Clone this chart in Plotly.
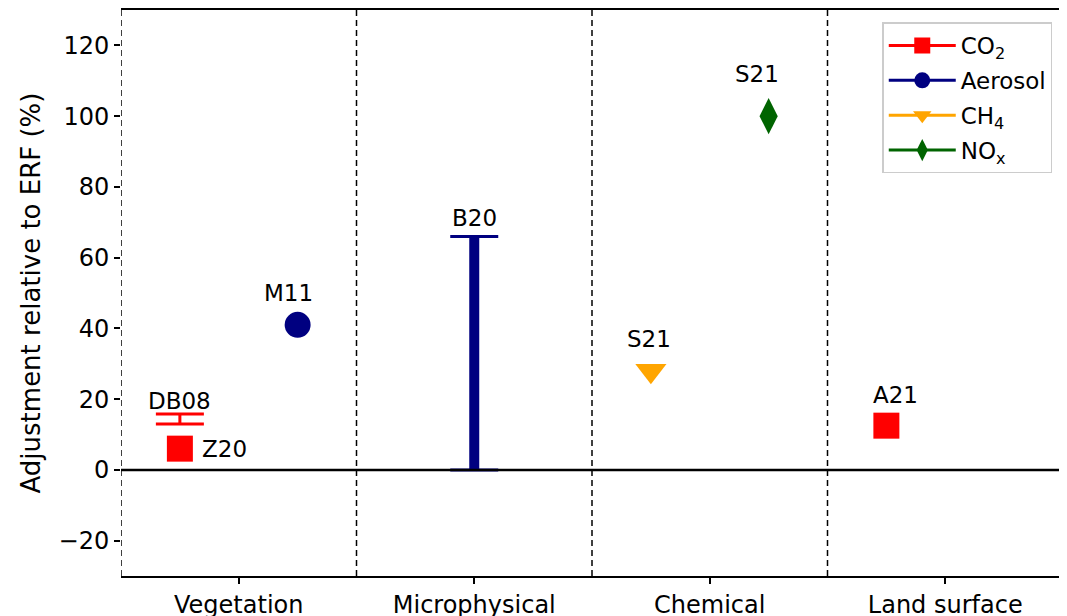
import plotly.graph_objects as go

# categories along x
categories = ["Vegetation", "Microphysical", "Chemical", "Land surface"]

# species colours / legend names
species = ["CO<sub>2</sub>", "Aerosol", "CH<sub>4</sub>", "NO<sub>x</sub>"]
species_colors = ["#ff0000", "#000080", "#ffa500", "#006400"]
species_symbols = ["square", "circle", "triangle-down", "diamond-tall"]

# single-value studies
point_labels = ["Z20", "M11", "S21", "S21", "A21"]
point_species = [0, 1, 2, 3, 0]
point_x = [-0.25, 0.25, 1.75, 2.25, 2.75]
point_y = [6, 41, 28, 100, 12.5]

# range studies
range_labels = ["DB08", "B20"]
range_species = [0, 1]
range_x = [-0.25, 1.0]
range_low = [13.0, 0.0]
range_high = [15.8, 66.0]

# label positions (text centres)
label_text = ["DB08", "Z20", "M11", "B20", "S21", "S21", "A21"]
label_x = [-0.25, -0.06, 0.21, 1.0, 1.74, 2.2, 2.79]
label_y = [19.5, 6, 50, 71.2, 37, 112, 21.2]

FONT = "DejaVu Sans, Verdana, sans-serif"

fig = go.Figure()

# thick stem for B20
fig.add_trace(go.Scatter(
    x=[range_x[1], range_x[1]], y=[range_low[1], range_high[1]],
    mode="lines", line=dict(color=species_colors[range_species[1]], width=10),
    showlegend=False, hoverinfo="skip",
))

# range bars with caps
for i in range(len(range_labels)):
    mid = (range_low[i] + range_high[i]) / 2
    half = (range_high[i] - range_low[i]) / 2
    fig.add_trace(go.Scatter(
        x=[range_x[i]], y=[mid], mode="markers",
        marker=dict(size=0.1, color=species_colors[range_species[i]]),
        error_y=dict(type="data", array=[half], symmetric=True,
                     color=species_colors[range_species[i]],
                     thickness=3, width=24),
        showlegend=False, hoverinfo="skip",
    ))

# point markers
for i in range(len(point_labels)):
    s = point_species[i]
    fig.add_trace(go.Scatter(
        x=[point_x[i]], y=[point_y[i]], mode="markers",
        marker=dict(symbol=species_symbols[s], size=26 if s != 2 else 27,
                    color=species_colors[s], line=dict(width=0)),
        showlegend=False,
    ))

# legend entries
for s in range(len(species)):
    fig.add_trace(go.Scatter(
        x=[None], y=[None], mode="lines+markers", name=species[s],
        line=dict(color=species_colors[s], width=3),
        marker=dict(symbol=species_symbols[s], size=16, color=species_colors[s]),
        legendgroup=str(s),
    ))

for t, x, y in zip(label_text, label_x, label_y):
    fig.add_annotation(x=x, y=y, text=t, showarrow=False,
                       font=dict(size=23, color="#000000", family=FONT))

# zero line
fig.add_shape(type="line", xref="paper", x0=0, x1=1, y0=0, y1=0,
              line=dict(color="black", width=2.5))
# category separators
for xv in [-0.5, 0.5, 1.5, 2.5]:
    fig.add_shape(type="line", x0=xv, x1=xv, yref="paper", y0=0, y1=1,
                  line=dict(color="black", width=1.5, dash="6px,4px"))
# right spine
fig.add_shape(type="line", xref="paper", x0=1, x1=1, yref="paper", y0=0, y1=1,
              line=dict(color="black", width=1.5))

fig.update_layout(
    width=1059, height=608,
    margin=dict(l=113, r=4, t=2, b=40, autoexpand=False),
    plot_bgcolor="white", paper_bgcolor="white",
    font=dict(family=FONT, size=24, color="#000000"),
    showlegend=True,
    legend=dict(
        x=0.9886, y=0.978, xanchor="right", yanchor="top",
        bgcolor="white", bordercolor="#cccccc", borderwidth=1.5,
        font=dict(size=23, family=FONT), tracegroupgap=2, itemwidth=67,
    ),
    xaxis=dict(
        range=[-0.5, 3.5], tickvals=[0, 1, 2, 3], ticktext=categories,
        showgrid=False, zeroline=False, showline=True, mirror=True,
        linecolor="black", linewidth=1.5, ticks="outside", ticklen=6,
        tickwidth=1.5, tickcolor="black", automargin=False,
    ),
    yaxis=dict(
        range=[-30, 130], tickvals=[-20, 0, 20, 40, 60, 80, 100, 120],
        showgrid=False, zeroline=False, showline=False, automargin=False,
        ticks="outside", ticklen=6, tickwidth=1.5, tickcolor="black",
        title=dict(text="Adjustment relative to ERF (%)", font=dict(size=26),
                   standoff=10),
    ),
)

fig.write_html("out.html")
